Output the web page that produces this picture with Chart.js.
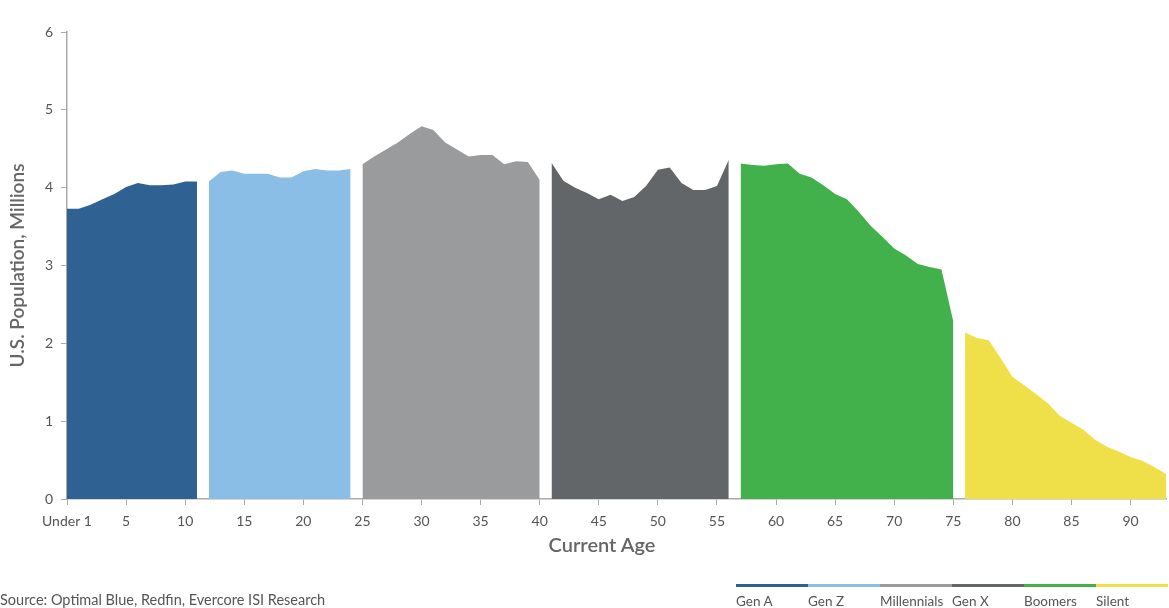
<!DOCTYPE html>
<html>
<head>
<meta charset="utf-8">
<script src="https://cdn.jsdelivr.net/npm/chart.js@4"></script>
<style>
  html, body { margin: 0; padding: 0; background: #fff; }
  body { width: 1169px; height: 608px; position: relative; overflow: hidden; font-family: Lato, 'Open Sans', sans-serif; }
  #wrap { position: absolute; left: 0; top: 0; width: 1169px; height: 608px; }
  .xtitle { position: absolute; left: 502px; width: 200px; top: 532px; text-align: center; font-size: 20px; font-weight: 600; color: #666; }
  .source { position: absolute; left: 0; top: 591px; font-size: 14.5px; color: #555; }
  .legend { position: absolute; left: 736px; top: 584px; display: flex; }
  .legend .item { width: 72px; border-top: 3px solid #999; padding-top: 6px; font-size: 13.5px; color: #555; white-space: nowrap; }
</style>
</head>
<body>
<div id="wrap"><canvas id="popChart"></canvas></div>
<div class="xtitle">Current Age</div>
<div class="source">Source: Optimal Blue, Redfin, Evercore ISI Research</div>
<div class="legend" id="legend"></div>
<script>
// ages 0..93, first one shown as "Under 1"
const maxAge = 93;
const ageLabels = [];
for (let a = 0; a <= maxAge; a++) ageLabels.push(a === 0 ? 'Under 1' : String(a));

const generations = ['Gen A', 'Gen Z', 'Millennials', 'Gen X', 'Boomers', 'Silent'];
const genStartAge = [0, 12, 25, 41, 57, 76];
const genColors = ['#306193', '#8bbee6', '#9a9b9d', '#636669', '#43b14b', '#efe04a'];

// population in millions, one value per age from the start age
const genA = [3.73, 3.73, 3.78, 3.85, 3.92, 4.01, 4.06, 4.03, 4.03, 4.04, 4.08, 4.08];
const genZ = [4.08, 4.20, 4.22, 4.18, 4.18, 4.18, 4.13, 4.13, 4.21, 4.24, 4.22, 4.22, 4.24];
const millennials = [4.30, 4.40, 4.49, 4.58, 4.69, 4.79, 4.74, 4.58, 4.49, 4.40, 4.42, 4.42, 4.30, 4.34, 4.33, 4.10];
const genX = [4.32, 4.09, 4.00, 3.93, 3.85, 3.91, 3.83, 3.88, 4.02, 4.23, 4.26, 4.06, 3.97, 3.97, 4.02, 4.36];
const boomers = [4.31, 4.29, 4.28, 4.30, 4.31, 4.18, 4.13, 4.03, 3.92, 3.85, 3.69, 3.51, 3.37, 3.22, 3.13, 3.02, 2.98, 2.95, 2.28];
const silent = [2.14, 2.07, 2.04, 1.81, 1.57, 1.46, 1.35, 1.23, 1.07, 0.98, 0.89, 0.76, 0.67, 0.61, 0.54, 0.49, 0.41, 0.32];
const genValues = [genA, genZ, millennials, genX, boomers, silent];

const yTicks = [0, 1, 2, 3, 4, 5, 6];

function padSeries(start, values) {
    const out = new Array(ageLabels.length).fill(null);
    values.forEach((v, i) => { out[start + i] = v; });
    return out;
}

const datasets = generations.map((g, i) => ({
    label: g,
    data: padSeries(genStartAge[i], genValues[i]),
    backgroundColor: genColors[i],
    borderColor: genColors[i],
    borderWidth: 0,
    pointRadius: 0,
    fill: 'origin',
    tension: 0,
    spanGaps: false
}));

const axisColor = '#aaa';
const tickFont = { family: 'Lato', size: 14 };

new Chart(document.getElementById('popChart').getContext('2d'), {
    type: 'line',
    data: { labels: ageLabels, datasets: datasets },
    options: {
        responsive: true,
        maintainAspectRatio: false,
        animation: false,
        layout: { padding: { left: 0, right: 3, top: 32, bottom: 0 } },
        plugins: { legend: { display: false }, tooltip: { enabled: false } },
        scales: {
            x: {
                type: 'category',
                offset: false,
                border: { color: axisColor, width: 1.5 },
                grid: {
                    drawOnChartArea: false,
                    tickLength: 6,
                    color: ctx => (ctx.index % 5 === 0 ? axisColor : 'rgba(0,0,0,0)')
                },
                ticks: {
                    autoSkip: false,
                    maxRotation: 0,
                    padding: 8,
                    color: '#555',
                    font: tickFont,
                    callback: (v, i) => (i % 5 === 0 ? ageLabels[i] : '')
                },
                afterFit: scale => { scale.height = 109; scale.paddingRight = 0; }
            },
            y: {
                min: yTicks[0],
                max: yTicks[yTicks.length - 1],
                border: { color: axisColor, width: 1.5 },
                grid: { drawOnChartArea: false, tickLength: 6, color: axisColor },
                afterBuildTicks: scale => { scale.ticks = yTicks.map(v => ({ value: v })); },
                ticks: { padding: 8, color: '#555', font: tickFont },
                title: { display: true, text: 'U.S. Population, Millions', color: '#666', font: { family: 'Lato', size: 19, weight: '600' }, padding: { top: 6, bottom: 0 } },
                afterFit: scale => { scale.width = 67; }
            }
        }
    }
});

// legend strip under the chart
const legendEl = document.getElementById('legend');
generations.forEach((g, i) => {
    const item = document.createElement('div');
    item.className = 'item';
    item.style.borderTopColor = genColors[i];
    item.textContent = g;
    legendEl.appendChild(item);
});
</script>
</body>
</html>
